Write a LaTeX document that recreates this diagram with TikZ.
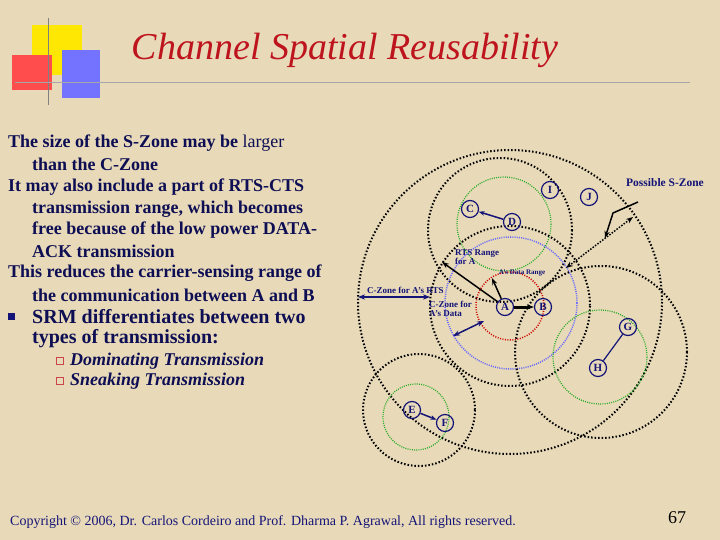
\documentclass[tikz,border=0pt]{standalone}
\usepackage{fontspec}
\setmainfont{Liberation Serif}
\usetikzlibrary{arrows.meta}
\definecolor{paper}{RGB}{232,218,184}
\definecolor{navy}{RGB}{20,20,120}
\definecolor{ttl}{RGB}{190,20,30}
\definecolor{dgreen}{RGB}{40,170,40}
\begin{document}
\begin{tikzpicture}[x=1pt,y=-1pt,
 bdot/.style={draw=black,line width=2pt,dash pattern=on 1.5pt off 2pt},
 gdot/.style={draw=dgreen,line width=1.2pt,dash pattern=on 1pt off 1.2pt},
 vdot/.style={draw=blue!60,line width=1.5pt,dash pattern=on 1pt off 1.2pt},
 rdot/.style={draw=red!80!black,line width=1.5pt,dash pattern=on 1pt off 1.5pt},
 nd/.style={circle,draw=navy,line width=1.2pt,inner sep=0pt,minimum size=17pt,font=\fontsize{11}{11}\selectfont\bfseries,text=navy},
 lb/.style={font=\fontsize{9}{9}\selectfont\bfseries,text=navy,inner sep=0pt},
 body/.style={font=\fontsize{18}{18}\selectfont\bfseries,text=navy!70!black,anchor=west,inner sep=0pt},
 sub/.style={body,font=\fontsize{18}{18}\selectfont\bfseries\itshape}]
\fill[paper] (0,0) rectangle (720,540);
\useasboundingbox (0,0) rectangle (720,540);
% decoration
\fill[yellow!90!orange] (32,25) rectangle (82,75);
\fill[red!70] (12,55) rectangle (52,90);
\fill[blue!55] (62,50) rectangle (100,98);
\draw[gray,line width=0.8pt] (48,18) -- (48,105);
\draw[gray!70,line width=0.8pt] (15,82) -- (690,82);
\node[text=ttl,font=\fontsize{38}{38}\selectfont\itshape] (title) at (345,50) {Channel Spatial Reusability};
% left text
\node[body] (t1) at (8,143) {The size of the S-Zone may be {\mdseries larger}};
\node[body] (t2) at (32,164) {than the C-Zone};
\node[body] (t3) at (8,187) {It may also include a part of RTS-CTS};
\node[body] (t4) at (32,209) {transmission range, which becomes};
\node[body] (t5) at (32,230) {free because of the low power DATA-};
\node[body] (t6) at (32,251) {ACK transmission};
\node[body] (t7) at (8,273) {This reduces the carrier-sensing range of};
\node[body] (t8) at (32,295) {the communication between A and B};
\fill[navy] (8,313) rectangle (15,320);
\node[body,font=\fontsize{20}{20}\selectfont\bfseries] (t9) at (32,317) {SRM differentiates between two};
\node[body,font=\fontsize{20}{20}\selectfont\bfseries] (t10) at (32,339) {types of transmission:};
\draw[ttl!80,line width=0.8pt] (56,357) rectangle (63,364);
\draw[ttl!80,line width=0.8pt] (56,377) rectangle (63,384);
\node[sub] (s1) at (70,361) {Dominating Transmission};
\node[sub] (s2) at (70,381) {Sneaking Transmission};
% circles
\draw[bdot] (510,302) circle (152);
\draw[bdot] (500,230) circle (72);
\draw[gdot] (504,224) circle (47);
\draw[bdot] (510,306) circle (80);
\draw[vdot] (511,303) circle (66);
\draw[rdot] (510,306) circle (34);
\draw[bdot] (601,352) circle (86);
\draw[gdot] (600,357) circle (47);
\draw[bdot] (419,410) circle (56);
\draw[gdot] (416,417) circle (33);
% nodes
\node[nd] (A) at (505,307) {A};
\node[nd] (B) at (543,307) {B};
\node[nd] (C) at (470,209) {C};
\node[nd] (D) at (512,222) {D};
\node[nd] (I) at (550,190) {I};
\node[nd] (J) at (589,197) {J};
\node[nd] (G) at (628,327) {G};
\node[nd] (H) at (598,368) {H};
\node[nd] (E) at (412,410) {E};
\node[nd] (F) at (445,423) {F};
% connectors
\draw[-{Stealth[length=6pt]},line width=1.5pt,navy] (D) -- (C);
\draw[-{Stealth[length=6pt]},line width=1.5pt,navy] (E) -- (F);
\draw[line width=1.2pt,navy] (G) -- (H);
\draw[-{Stealth[length=7pt]},line width=3pt] (A) -- (B);
\coordinate (rts) at (442,262);
\coordinate (red) at (492,278);
\draw[-{Stealth[length=7pt]},line width=1.5pt] (A) -- (rts);
\draw[-{Stealth[length=7pt]},line width=1.5pt] (A) -- (red);
\coordinate (cz1) at (358,297); \coordinate (cz2) at (430,297);
\draw[{Stealth[length=7pt]}-{Stealth[length=7pt]},line width=1.5pt,navy] (cz1) -- (cz2);
\coordinate (cd1) at (453,336); \coordinate (cd2) at (484,321);
\draw[{Stealth[length=7pt]}-{Stealth[length=7pt]},line width=1.5pt,navy] (cd1) -- (cd2);
\coordinate (s0) at (638,202); \coordinate (s1c) at (613,213); \coordinate (s2c) at (605,238);
\draw[-{Stealth[length=7pt]},line width=1.5pt] (s0) -- (s1c) -- (s2c);
\coordinate (s3) at (633,217); \coordinate (s4) at (566,268);
\draw[line width=1.5pt,dash pattern=on 1.5pt off 1.5pt,{Stealth[length=7pt]}-{Stealth[length=7pt]}] (s3) -- (s4);
% labels
\node[lb,font=\fontsize{11.5}{11.5}\selectfont\bfseries] (pz) at (665,183) {Possible S-Zone};
\node[lb,align=left,anchor=west] (rl) at (455,257) {RTS Range\\for A};
\node[lb,font=\fontsize{7}{7}\selectfont\bfseries] (dl) at (522,273) {A's Data Range};
\node[lb,anchor=west] (czr) at (367,290) {C-Zone for A's RTS};
\node[lb,align=left,anchor=west] (czd) at (429,309) {C-Zone for\\A's Data};
% footer
\node[anchor=west,font=\fontsize{14}{14}\selectfont,text=navy,inner sep=0pt] (cp) at (10,522) {Copyright \copyright{} 2006, Dr. Carlos Cordeiro and Prof. Dharma P. Agrawal, All rights reserved.};
\node[font=\fontsize{18}{18}\selectfont,inner sep=0pt] (pg) at (677,518) {67};
\end{tikzpicture}
\end{document}
